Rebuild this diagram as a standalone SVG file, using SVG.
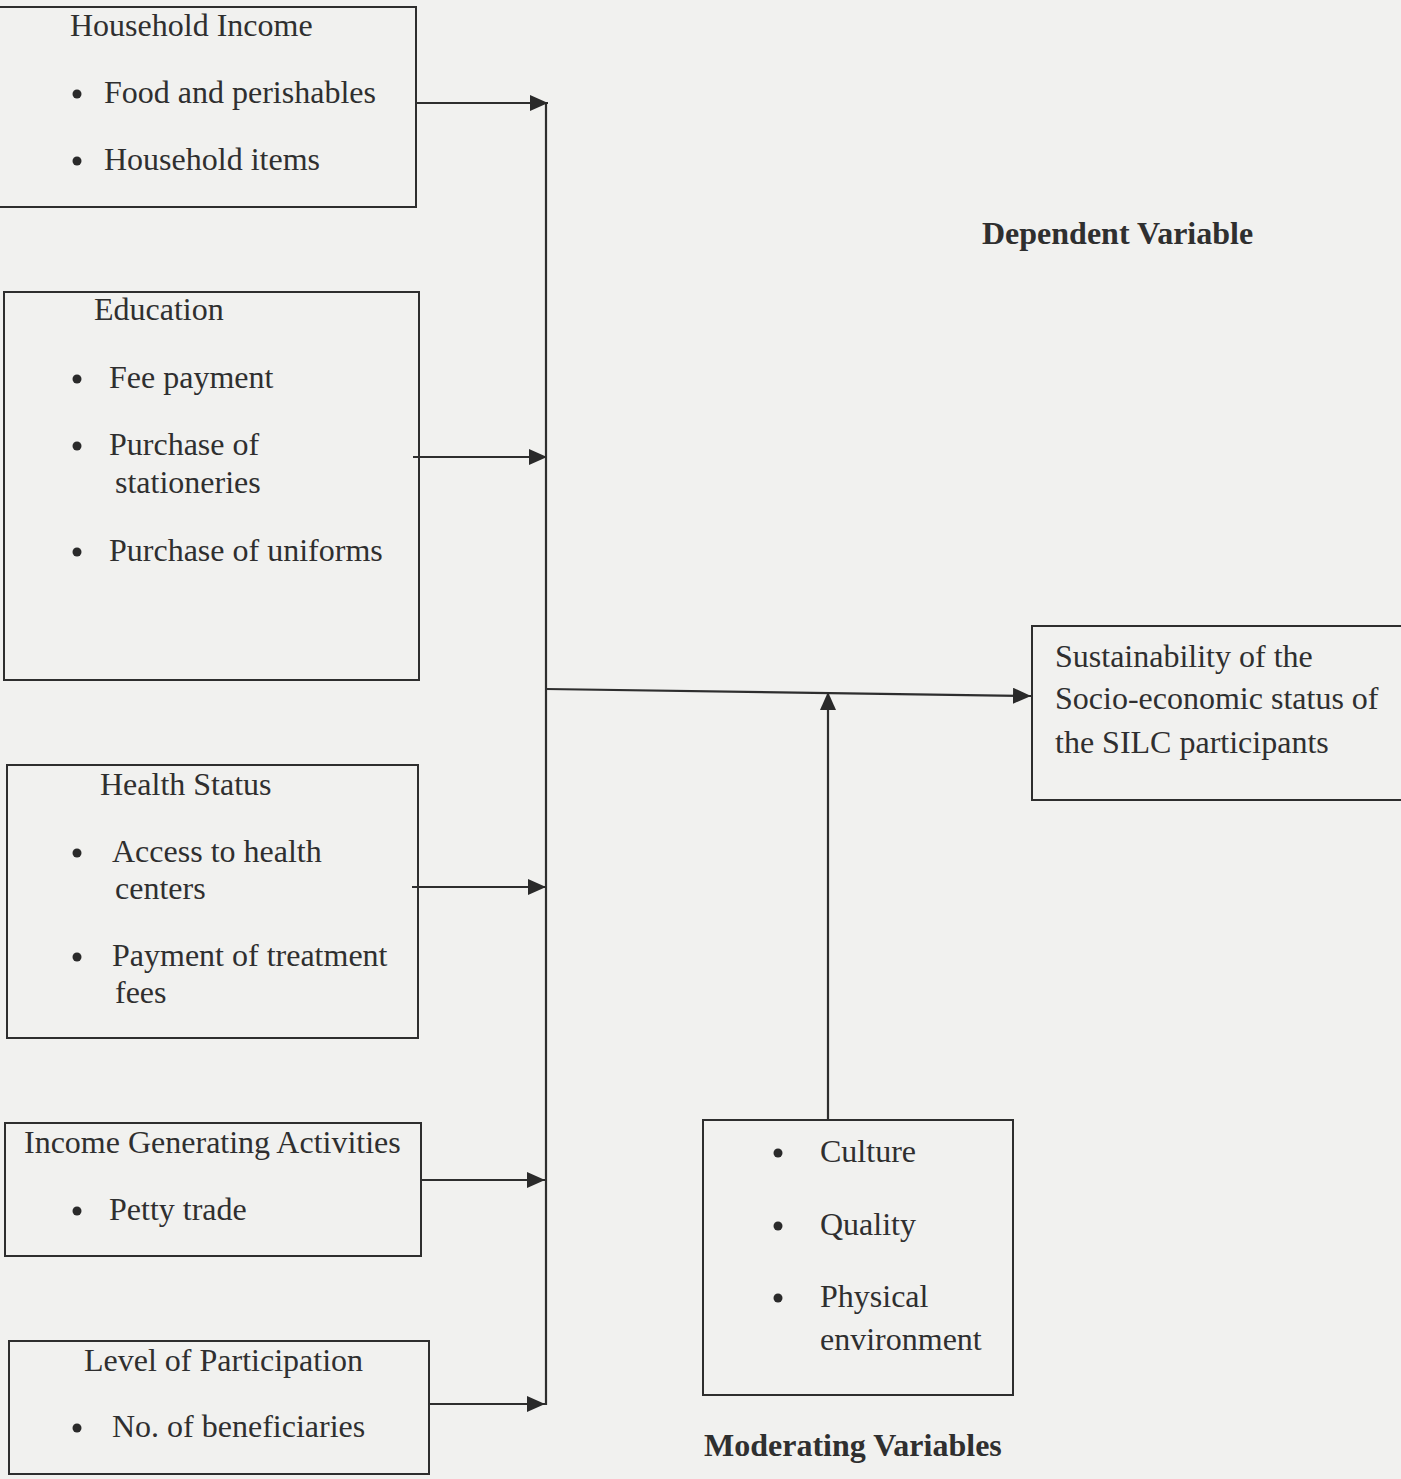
<svg xmlns="http://www.w3.org/2000/svg" width="1401" height="1479" viewBox="0 0 1401 1479">
<style>
.bg{fill:#f1f1ef}
.box{fill:none;stroke:#2e2e2e;stroke-width:2}
.ln{fill:none;stroke:#2e2e2e;stroke-width:2.2}
.dot{fill:#2a2a2a}
text{font-family:"Liberation Serif","Times New Roman",serif;font-size:32px;fill:#2f2f2f}
.b{font-weight:bold}
</style>
<defs>
<marker id="ah" markerUnits="userSpaceOnUse" markerWidth="20" markerHeight="16" refX="18" refY="8" orient="auto">
<path d="M0,0 L18,8 L0,16 Z" fill="#2a2a2a"/>
</marker>
</defs>
<rect class="bg" x="0" y="0" width="1401" height="1479"/>
<g id="n1">
<rect class="box" x="-2" y="7" width="418" height="200"/>
<text x="70" y="36">Household Income</text>
<circle class="dot" cx="77" cy="94" r="4.5"/><text x="104" y="103">Food and perishables</text>
<circle class="dot" cx="77" cy="161" r="4.5"/><text x="104" y="170">Household items</text>
</g>
<g id="n2">
<rect class="box" x="4" y="292" width="415" height="388"/>
<text x="94" y="320">Education</text>
<circle class="dot" cx="77" cy="379" r="4.5"/><text x="109" y="388">Fee payment</text>
<circle class="dot" cx="77" cy="446" r="4.5"/><text x="109" y="455">Purchase of</text>
<text x="115" y="493">stationeries</text>
<circle class="dot" cx="77" cy="552" r="4.5"/><text x="109" y="561">Purchase of uniforms</text>
</g>
<g id="n3">
<rect class="box" x="7" y="765" width="411" height="273"/>
<text x="100" y="795">Health Status</text>
<circle class="dot" cx="77" cy="853" r="4.5"/><text x="112" y="862">Access to health</text>
<text x="115" y="899">centers</text>
<circle class="dot" cx="77" cy="957" r="4.5"/><text x="112" y="966">Payment of treatment</text>
<text x="115" y="1003">fees</text>
</g>
<g id="n4">
<rect class="box" x="5" y="1123" width="416" height="133"/>
<text x="24" y="1153">Income Generating Activities</text>
<circle class="dot" cx="77" cy="1211" r="4.5"/><text x="109" y="1220">Petty trade</text>
</g>
<g id="n5">
<rect class="box" x="9" y="1341" width="420" height="133"/>
<text x="84" y="1371">Level of Participation</text>
<circle class="dot" cx="77" cy="1428" r="4.5"/><text x="112" y="1437">No. of beneficiaries</text>
</g>
<g id="n6">
<rect class="box" x="1032" y="626" width="372" height="174"/>
<text x="1055" y="667">Sustainability of the</text>
<text x="1055" y="709">Socio-economic status of</text>
<text x="1055" y="753">the SILC participants</text>
</g>
<g id="n7">
<rect class="box" x="703" y="1120" width="310" height="275"/>
<circle class="dot" cx="778" cy="1153" r="4.5"/><text x="820" y="1162">Culture</text>
<circle class="dot" cx="778" cy="1226" r="4.5"/><text x="820" y="1235">Quality</text>
<circle class="dot" cx="778" cy="1298" r="4.5"/><text x="820" y="1307">Physical</text>
<text x="820" y="1350">environment</text>
</g>
<g id="labels">
<text class="b" x="982" y="244">Dependent Variable</text>
<text class="b" x="704" y="1456">Moderating Variables</text>
</g>
<g id="connectors">
<line class="ln" x1="546" y1="102" x2="546" y2="1405"/>
<line class="ln" x1="416" y1="103" x2="548" y2="103" marker-end="url(#ah)"/>
<line class="ln" x1="413" y1="457" x2="547" y2="457" marker-end="url(#ah)"/>
<line class="ln" x1="412" y1="887" x2="546" y2="887" marker-end="url(#ah)"/>
<line class="ln" x1="421" y1="1180" x2="545" y2="1180" marker-end="url(#ah)"/>
<line class="ln" x1="429" y1="1404" x2="545" y2="1404" marker-end="url(#ah)"/>
<line class="ln" x1="546" y1="689" x2="1031" y2="696" marker-end="url(#ah)"/>
<line class="ln" x1="828" y1="1120" x2="828" y2="692" marker-end="url(#ah)"/>
</g>
</svg>
